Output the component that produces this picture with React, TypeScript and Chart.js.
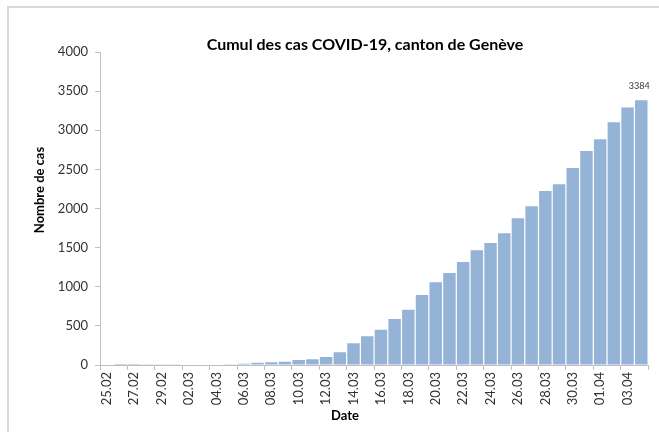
import React, { useEffect, useRef } from "react";
import { Chart, registerables } from "chart.js";

Chart.register(...registerables);

const dates: string[] = [
  "25.02", "26.02", "27.02", "28.02", "29.02",
  "01.03", "02.03", "03.03", "04.03", "05.03", "06.03", "07.03", "08.03", "09.03", "10.03",
  "11.03", "12.03", "13.03", "14.03", "15.03", "16.03", "17.03", "18.03", "19.03", "20.03",
  "21.03", "22.03", "23.03", "24.03", "25.03", "26.03", "27.03", "28.03", "29.03", "30.03",
  "31.03", "01.04", "02.04", "03.04", "04.04",
];

const cumulativeCases: number[] = [
  0, 1, 1, 2, 3,
  4, 5, 5, 6, 8, 17, 30, 35, 40, 64,
  72, 102, 162, 277, 366, 451, 588, 707, 895, 1057,
  1176, 1316, 1466, 1559, 1683, 1874, 2028, 2224, 2309, 2518,
  2735, 2884, 3101, 3290, 3384,
];

const yTicks: number[] = [0, 500, 1000, 1500, 2000, 2500, 3000, 3500, 4000];

const chartTitle = "Cumul des cas COVID-19, canton de Genève";
const yAxisTitle = "Nombre de cas";
const xAxisTitle = "Date";
const lastValueLabel = "3384";

const FONT = "Lato, 'Open Sans', sans-serif";
const AXIS_GRAY = "#bfbfbf";
const TICK_COLOR = "#333333";

const decorPlugin = {
  id: "decor",
  beforeDraw(chart: any) {
    const ctx = chart.ctx;
    ctx.save();
    ctx.fillStyle = "#ffffff";
    ctx.fillRect(0, 0, chart.width, chart.height);
    ctx.restore();
  },
  afterDraw(chart: any) {
    const ctx = chart.ctx;
    ctx.save();
    // outer frame (left and top visible)
    ctx.fillStyle = "#d9d9d9";
    ctx.fillRect(7, 6, 2, chart.height - 6);
    ctx.fillRect(7, 6, chart.width - 7, 2);

    // chart title
    ctx.fillStyle = "#000000";
    ctx.textAlign = "center";
    ctx.textBaseline = "middle";
    ctx.font = `bold 16px ${FONT}`;
    ctx.fillText(chartTitle, 365, 45);

    // x axis title
    ctx.font = `bold 13px ${FONT}`;
    ctx.fillText(xAxisTitle, 345, 416);

    // y axis title
    ctx.save();
    ctx.translate(40, 190);
    ctx.rotate(-Math.PI / 2);
    ctx.fillText(yAxisTitle, 0, 0);
    ctx.restore();

    // data label on last bar
    const meta = chart.getDatasetMeta(0);
    const last = meta.data[meta.data.length - 1];
    if (last) {
      ctx.font = `9px ${FONT}`;
      ctx.fillStyle = "#333333";
      ctx.textBaseline = "alphabetic";
      ctx.fillText(lastValueLabel, last.x - 2, last.y - 11);
    }
    ctx.restore();
  },
};

export default function App() {
  const canvasRef = useRef<HTMLCanvasElement | null>(null);

  useEffect(() => {
    if (!canvasRef.current) return;
    const chart = new Chart(canvasRef.current, {
      type: "bar",
      data: {
        labels: dates,
        datasets: [
          {
            data: cumulativeCases,
            backgroundColor: "#95b3d7",
            borderWidth: 0,
            barPercentage: 0.91,
            categoryPercentage: 1,
          },
        ],
      },
      options: {
        responsive: false,
        animation: false,
        layout: { padding: { top: 52, right: 10, left: 0, bottom: 0 } },
        plugins: {
          legend: { display: false },
          title: { display: false },
          tooltip: { enabled: false },
        },
        scales: {
          x: {
            grid: {
              offset: true,
              drawOnChartArea: false,
              drawTicks: true,
              tickLength: 5,
              color: (c: any) =>
                c.index === undefined || c.index % 2 === 0 ? AXIS_GRAY : "rgba(0,0,0,0)",
            },
            border: { color: AXIS_GRAY, width: 1 },
            ticks: {
              autoSkip: false,
              maxRotation: 90,
              minRotation: 90,
              padding: 2,
              color: TICK_COLOR,
              font: { family: FONT, size: 13 },
              callback: (_v: any, i: number) => (i % 2 === 0 ? dates[i] : ""),
            },
            afterFit: (scale: any) => {
              scale.height = 67;
            },
          },
          y: {
            min: 0,
            max: 4000,
            afterBuildTicks: (scale: any) => {
              scale.ticks = yTicks.map((v) => ({ value: v }));
            },
            grid: {
              drawOnChartArea: false,
              drawTicks: true,
              tickLength: 5,
              color: AXIS_GRAY,
            },
            border: { color: AXIS_GRAY, width: 1 },
            ticks: {
              padding: 7,
              color: TICK_COLOR,
              font: { family: FONT, size: 13 },
              callback: (v: any) => String(v),
            },
            afterFit: (scale: any) => {
              scale.width = 100;
            },
          },
        },
      },
      plugins: [decorPlugin],
    });
    return () => chart.destroy();
  }, []);

  return (
    <div style={{ position: "fixed", left: 0, top: 0, width: 659, height: 432, background: "#fff" }}>
      <canvas ref={canvasRef} width={659} height={432} style={{ display: "block" }} />
    </div>
  );
}
